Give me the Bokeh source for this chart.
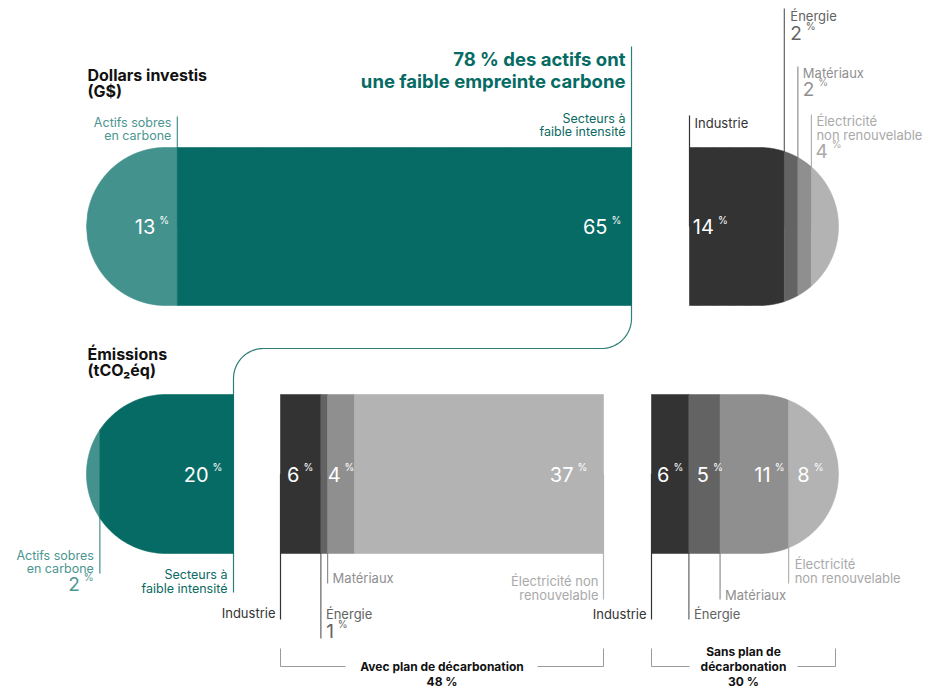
import numpy as np
from bokeh.plotting import figure
from bokeh.models import Range1d
from bokeh.core.properties import value
from bokeh.embed import file_html
from bokeh.resources import INLINE

# ---------------- data ----------------
low_labels = ["Actifs sobres en carbone", "Secteurs à faible intensité"]
dollars_low = [13, 65]            # % of dollars invested, low-carbon part
dollars_high = [14, 2, 2, 4]      # Industrie, Énergie, Matériaux, Électricité
high_labels = ["Industrie", "Énergie", "Matériaux", "Électricité non renouvelable"]
emis_low = [2, 20]
emis_avec = [6, 1, 4, 37]         # with decarbonisation plan
emis_sans = [6, 5, 11, 8]         # without decarbonisation plan
share_low_dollars = 78
share_avec = 48
share_sans = 30

# ---------------- style ----------------
FONT = value("Inter")
TEAL = ["#43928d", "#066b64"]
TEAL_TXT = ["#4b9691", "#0b6a63"]
GREYS = ["#333333", "#636363", "#8f8f8f", "#b3b3b3"]
GREY_TXT = ["#333333", "#636363", "#8f8f8f", "#a9a9a9"]
CONNECT = "#2f7f79"

W, H = 942, 688
p = figure(width=W, height=H, output_backend="svg", toolbar_location=None,
           x_range=Range1d(0, W), y_range=Range1d(H, 0), min_border=0)
p.axis.visible = False
p.grid.visible = False
p.outline_line_color = None
p.background_fill_color = "white"


def bounds(vals, x0, x1):
    c = np.concatenate([[0], np.cumsum(vals)]) / float(np.sum(vals))
    return list(x0 + c * (x1 - x0))


def seg_poly(xa, xb, gx0, gx1, yt, yb, rl, rr, n=90):
    r = (yb - yt) / 2.0
    cy = (yt + yb) / 2.0
    xs = np.linspace(xa, xb, n)
    h = np.full_like(xs, r)
    if rl:
        m = xs < gx0 + r
        h[m] = np.sqrt(np.clip(r ** 2 - (gx0 + r - xs[m]) ** 2, 0, None))
    if rr:
        m = xs > gx1 - r
        h[m] = np.sqrt(np.clip(r ** 2 - (xs[m] - (gx1 - r)) ** 2, 0, None))
    return list(xs) + list(xs[::-1]), list(cy - h) + list((cy + h)[::-1])


def draw_group(vals, colors, gx0, gx1, yt, yb, rl, rr):
    b = bounds(vals, gx0, gx1)
    xs, ys = [], []
    for i in range(len(vals)):
        px, py = seg_poly(b[i], b[i + 1], gx0, gx1, yt, yb, rl, rr)
        xs.append(px)
        ys.append(py)
    p.patches(xs=xs, ys=ys, fill_color=colors, line_color=colors, line_width=0.6)
    return b


def txt(x, y, s, color="#222222", size=13, align="left", bold=False):
    p.text(x=[x], y=[y], text=[s], text_font=FONT, text_font_size=f"{size}px",
           text_color=color, text_align=align, text_baseline="middle",
           text_font_style="bold" if bold else "normal")


def pct(x, y, num, color="white", size=20, mode="left"):
    s = str(num)
    w = sum(size * (0.42 if ch == "1" else 0.6) for ch in s)
    xe = x + w if mode == "left" else x
    txt(xe, y, s, color, size, "right")
    txt(xe + 4, y - size * 0.33, "%", color, int(size * 0.54), "left")


def vline(x, y0, y1, color, w=1.2):
    p.segment(x0=[x], y0=[y0], x1=[x], y1=[y1], line_color=color, line_width=w)


# ---------------- geometry ----------------
TOP_Y = (147, 305)
BOT_Y = (394, 553)
top_cy = sum(TOP_Y) / 2
bot_cy = sum(BOT_Y) / 2

# connector line from the top "Secteurs" edge to the bottom one (drawn first)
tl_end = 631
bl_end = 233
rad = 30
ymid = 348
ang = np.linspace(0, np.pi / 2, 20)
cx1 = list(tl_end - rad + rad * np.cos(ang))
cy1 = list(ymid - rad + rad * np.sin(ang))
cx2 = list(bl_end + rad - rad * np.sin(ang))
cy2 = list(ymid + rad - rad * np.cos(ang))
p.line(x=[tl_end] + cx1 + cx2 + [bl_end], y=[46] + cy1 + cy2 + [592],
       line_color=CONNECT, line_width=1.2)

# leader lines (under the bars)
b_tl = bounds(dollars_low, 86, tl_end)
b_tr = bounds(dollars_high, 689, 838)
b_bl = bounds(emis_low, 86, bl_end)
b_bm = bounds(emis_avec, 280, 603)
b_br = bounds(emis_sans, 651, 838)

vline(b_tl[1], 116, top_cy, TEAL[0])
vline(b_tr[0], 115, top_cy, GREYS[0])
vline(b_tr[1], 8, top_cy, GREYS[1])
vline(b_tr[2], 66, top_cy, GREYS[2])
vline(b_tr[3], 114, top_cy, GREYS[3])

vline(b_bl[1], bot_cy, 573, TEAL[0])
vline(b_bm[0], bot_cy, 619, GREYS[0])
vline(b_bm[1], bot_cy, 638, GREYS[1])
vline(b_bm[2], bot_cy, 583, GREYS[2])
vline(b_bm[4], bot_cy, 599, GREYS[3])
vline(b_br[0], bot_cy, 619, GREYS[0])
vline(b_br[1], bot_cy, 619, GREYS[1])
vline(b_br[2], bot_cy, 599, GREYS[2])
vline(b_br[3], bot_cy, 583, GREYS[3])

# bars
draw_group(dollars_low, TEAL, 86, tl_end, TOP_Y[0], TOP_Y[1], True, False)
draw_group(dollars_high, GREYS, 689, 838, TOP_Y[0], TOP_Y[1], False, True)
draw_group(emis_low, TEAL, 86, bl_end, BOT_Y[0], BOT_Y[1], True, False)
draw_group(emis_avec, GREYS, 280, 603, BOT_Y[0], BOT_Y[1], False, False)
draw_group(emis_sans, GREYS, 651, 838, BOT_Y[0], BOT_Y[1], False, True)

# values inside bars
pct(b_tl[1] - 22, top_cy, dollars_low[0], mode="right")
pct(b_tl[2] - 24, top_cy, dollars_low[1], mode="right")
pct(b_tr[0] + 4, top_cy, dollars_high[0], mode="left")
pct(b_bl[2] - 25, bot_cy, emis_low[1], mode="right")
pct(b_bm[0] + 7, bot_cy, emis_avec[0], mode="left")
pct(b_bm[2] + 1, bot_cy, emis_avec[2], mode="left")
pct(b_bm[4] - 30, bot_cy, emis_avec[3], mode="right")
pct(b_br[0] + 6, bot_cy, emis_sans[0], mode="left")
pct(b_br[1] + 8, bot_cy, emis_sans[1], mode="left")
pct(b_br[3] - 18, bot_cy, emis_sans[2], mode="right")
pct(b_br[3] + 9, bot_cy, emis_sans[3], mode="left")

# headers
txt(87, 74, "Dollars investis", "#111111", 16, bold=True)
txt(87, 90, "(G$)", "#111111", 16, bold=True)
txt(87, 353, "Émissions", "#111111", 16, bold=True)
txt(87, 369, "(tCO₂éq)", "#111111", 16, bold=True)
txt(tl_end - 6, 58, f"{share_low_dollars} % des actifs ont", TEAL[1], 18.5, "right", True)
txt(tl_end - 6, 80, "une faible empreinte carbone", TEAL[1], 18.5, "right", True)

# top labels
txt(b_tl[1] - 6, 122, "Actifs sobres", TEAL_TXT[0], 12.5, "right")
txt(b_tl[1] - 6, 135, "en carbone", TEAL_TXT[0], 12.5, "right")
txt(tl_end - 6, 118, "Secteurs à", TEAL_TXT[1], 12.5, "right")
txt(tl_end - 6, 131, "faible intensité", TEAL_TXT[1], 12.5, "right")

txt(b_tr[0] + 5, 122, high_labels[0], GREY_TXT[0], 13)
txt(b_tr[1] + 6, 15, high_labels[1], GREY_TXT[1], 13)
pct(b_tr[1] + 6, 32, dollars_high[1], GREY_TXT[1], 19)
txt(b_tr[2] + 5, 72, high_labels[2], GREY_TXT[2], 13)
pct(b_tr[2] + 5, 88, dollars_high[2], GREY_TXT[2], 19)
txt(b_tr[3] + 5, 120, "Électricité", GREY_TXT[3], 13)
txt(b_tr[3] + 5, 134, "non renouvelable", GREY_TXT[3], 13)
pct(b_tr[3] + 5, 150, dollars_high[3], GREY_TXT[3], 19)

# bottom labels
txt(b_bl[1] - 6, 555, "Actifs sobres", TEAL_TXT[0], 12.5, "right")
txt(b_bl[1] - 6, 568, "en carbone", TEAL_TXT[0], 12.5, "right")
pct(b_bl[1] - 20, 583, emis_low[0], TEAL_TXT[0], 19, "right")
txt(bl_end - 6, 574, "Secteurs à", TEAL_TXT[1], 12.5, "right")
txt(bl_end - 6, 588, "faible intensité", TEAL_TXT[1], 12.5, "right")

txt(b_bm[0] - 5, 612, high_labels[0], GREY_TXT[0], 13, "right")
txt(b_bm[1] + 5, 613, high_labels[1], GREY_TXT[1], 13)
pct(b_bm[1] + 5, 630, emis_avec[1], GREY_TXT[1], 19)
txt(b_bm[2] + 5, 577, high_labels[2], GREY_TXT[2], 13)
txt(b_bm[4] - 5, 580, "Électricité non", GREY_TXT[3], 13, "right")
txt(b_bm[4] - 5, 594, "renouvelable", GREY_TXT[3], 13, "right")

txt(b_br[0] - 5, 613, high_labels[0], GREY_TXT[0], 13, "right")
txt(b_br[1] + 5, 613, high_labels[1], GREY_TXT[1], 13)
txt(b_br[2] + 5, 594, high_labels[2], GREY_TXT[2], 13)
txt(b_br[3] + 6, 563, "Électricité", GREY_TXT[3], 13)
txt(b_br[3] + 6, 577, "non renouvelable", GREY_TXT[3], 13)

# brackets
BR = "#9a9a9a"
a0, a1 = b_bm[0], b_bm[4]
p.line(x=[a0, a0, 345], y=[648, 666, 666], line_color=BR, line_width=1)
p.line(x=[537, a1, a1], y=[666, 666, 648], line_color=BR, line_width=1)
amid = (a0 + a1) / 2
txt(amid, 666, "Avec plan de décarbonation", "#111111", 12, "center", True)
txt(amid, 681, f"{share_avec} %", "#111111", 12, "center", True)

s0, s1 = b_br[0], b_br[4] - 3
p.line(x=[s0, s0, 689], y=[648, 666, 666], line_color=BR, line_width=1)
p.line(x=[797, s1, s1], y=[666, 666, 648], line_color=BR, line_width=1)
smid = (s0 + s1) / 2
txt(smid, 651, "Sans plan de", "#111111", 12, "center", True)
txt(smid, 666, "décarbonation", "#111111", 12, "center", True)
txt(smid, 681, f"{share_sans} %", "#111111", 12, "center", True)

open("out.html", "w").write(file_html(p, INLINE))
